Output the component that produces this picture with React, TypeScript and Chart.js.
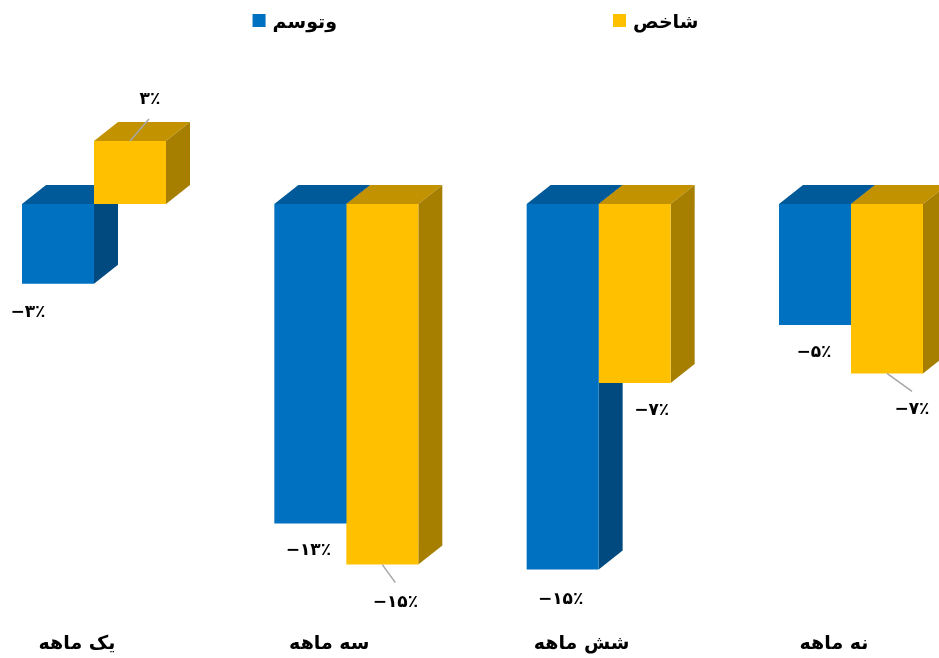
import React, { useEffect, useRef } from 'react';
import { Chart, registerables } from 'chart.js';

Chart.register(...registerables);

const categories = ['یک ماهه', 'سه ماهه', 'شش ماهه', 'نه ماهه'];
const seriesNames = ['وتوسم', 'شاخص'];
const vatusamValues = [-3.3, -13.2, -15.1, -5.0];
const indexValues = [2.6, -14.9, -7.4, -7.0];

const FRONT = ['#0070C0', '#FFC000'];
const TOP = ['#005A9A', '#C39200'];
const SIDE = ['#004A80', '#A67E00'];
const DEPTH_X = 24;
const DEPTH_Y = 19;
const FONT = '"DejaVu Sans", sans-serif';

const faDigits = '۰۱۲۳۴۵۶۷۸۹';
const toFa = (s: string) => s.replace(/\d/g, (d) => faDigits[+d]);
const fmt = (v: number) => {
  const r = Math.round(v);
  return (r < 0 ? '−' : '') + toFa(String(Math.abs(r))) + '٪';
};

// label placement relative to the bar's value end (center x, end y)
const labelPlacement: any[][] = [
  [{ dx: -30, dy: 29 }, { dx: -2, dy: 27 }, { dx: -2, dy: 30 }, { dx: -1, dy: 28 }],
  [
    { dx: 20, dy: -42, leader: [19, -22] },
    { dx: 13, dy: 38, leader: [13, 18] },
    { dx: 17, dy: 27 },
    { dx: 25, dy: 36, leader: [25, 18] },
  ],
];

const threeD = {
  id: 'threeD',
  beforeDatasetsDraw(chart: any) {
    const ctx = chart.ctx;
    chart.data.datasets.forEach((ds: any, di: number) => {
      const meta = chart.getDatasetMeta(di);
      meta.data.forEach((el: any) => {
        const { x, y, base, width } = el.getProps(['x', 'y', 'base', 'width'], true);
        const l = x - width / 2;
        const r = x + width / 2;
        const t = Math.min(y, base);
        const b = Math.max(y, base);
        ctx.save();
        ctx.fillStyle = TOP[di];
        ctx.beginPath();
        ctx.moveTo(l, t);
        ctx.lineTo(r, t);
        ctx.lineTo(r + DEPTH_X, t - DEPTH_Y);
        ctx.lineTo(l + DEPTH_X, t - DEPTH_Y);
        ctx.closePath();
        ctx.fill();
        ctx.fillStyle = SIDE[di];
        ctx.beginPath();
        ctx.moveTo(r, t);
        ctx.lineTo(r + DEPTH_X, t - DEPTH_Y);
        ctx.lineTo(r + DEPTH_X, b - DEPTH_Y);
        ctx.lineTo(r, b);
        ctx.closePath();
        ctx.fill();
        ctx.restore();
      });
    });
  },
  afterDatasetsDraw(chart: any) {
    const ctx = chart.ctx;
    chart.data.datasets.forEach((ds: any, di: number) => {
      const meta = chart.getDatasetMeta(di);
      meta.data.forEach((el: any, i: number) => {
        const { x, y } = el.getProps(['x', 'y'], true);
        const p = labelPlacement[di][i];
        ctx.save();
        if (p.leader) {
          ctx.strokeStyle = '#A6A6A6';
          ctx.lineWidth = 1.5;
          ctx.beginPath();
          ctx.moveTo(x, y);
          ctx.lineTo(x + p.leader[0], y + p.leader[1]);
          ctx.stroke();
        }
        ctx.fillStyle = '#000';
        ctx.font = 'bold 17px ' + FONT;
        ctx.textAlign = 'center';
        ctx.textBaseline = 'middle';
        ctx.fillText(fmt(ds.data[i].y), x + p.dx, y + p.dy);
        ctx.restore();
      });
    });
  },
  afterDraw(chart: any) {
    const ctx = chart.ctx;
    ctx.save();
    ctx.font = 'bold 19px ' + FONT;
    ctx.textBaseline = 'middle';
    ctx.textAlign = 'left';
    const box = 13;
    const gap = 7;
    const between = 276;
    const widths = chart.data.datasets.map((d: any) => ctx.measureText(d.label).width);
    const total = widths.reduce((a: number, w: number) => a + box + gap + w, 0) + between * (widths.length - 1);
    let cx = (chart.width - total) / 2 + 6;
    chart.data.datasets.forEach((d: any, i: number) => {
      ctx.fillStyle = FRONT[i];
      ctx.fillRect(cx, 14, box, box);
      ctx.fillStyle = '#000';
      ctx.fillText(d.label, cx + box + gap, 23);
      cx += box + gap + widths[i] + between;
    });
    ctx.restore();
  },
};

export default function App() {
  const ref = useRef<HTMLCanvasElement>(null);
  useEffect(() => {
    const chart = new Chart(ref.current!, {
      type: 'bar',
      data: {
        datasets: [
          {
            label: seriesNames[0],
            data: vatusamValues.map((v, i) => ({ x: i, y: v })),
            backgroundColor: FRONT[0],
            borderWidth: 0,
          },
          {
            label: seriesNames[1],
            data: indexValues.map((v, i) => ({ x: i, y: v })),
            backgroundColor: FRONT[1],
            borderWidth: 0,
          },
        ],
      },
      options: {
        animation: false,
        responsive: true,
        maintainAspectRatio: false,
        layout: { padding: 0 },
        categoryPercentage: 144 / 252.33,
        barPercentage: 1,
        plugins: { legend: { display: false }, tooltip: { enabled: false } },
        scales: {
          x: {
            type: 'linear',
            offset: false,
            min: -94 / 252.33,
            max: (939 - 94) / 252.33,
            afterBuildTicks: (s: any) => {
              s.ticks = categories.map((_, i) => ({ value: i }));
            },
            afterFit: (s: any) => {
              s.height = 50;
            },
            grid: { display: false, drawTicks: false },
            border: { display: false },
            ticks: {
              autoSkip: false,
              maxRotation: 0,
              padding: 25,
              labelOffset: -17,
              color: '#000',
              font: { family: FONT, size: 19, weight: 'bold' },
              callback: (v: any) => categories[v] ?? '',
            },
          },
          y: {
            display: false,
            min: -404 / 24.2,
            max: 204 / 24.2,
          },
        },
      } as any,
      plugins: [threeD],
    });
    return () => chart.destroy();
  }, []);
  return (
    <div style={{ position: 'fixed', left: 0, top: 0, width: 939, height: 658, background: '#fff' }}>
      <canvas ref={ref} />
    </div>
  );
}
